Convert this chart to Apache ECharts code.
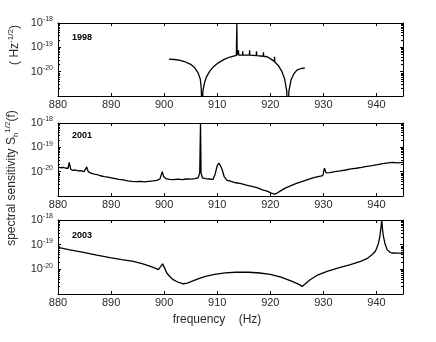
<!DOCTYPE html>
<html lang="en">
<head>
    <meta charset="UTF-8">
    <title>spectral sensitivity</title>
    <script type="text/javascript" src="https://cdn.jsdelivr.net/npm/echarts@6/dist/echarts.min.js"></script>
    <style>
        body { margin: 0; background: #fff; }
    </style>
</head>
<body>
<div id="main" style="width: 436px;height:342px;"></div>
<script>
    // frequency ticks (Hz)
    var freqTicks = [880, 890, 900, 910, 920, 930, 940];
    // panel labels
    var years = ['1998', '2001', '2003'];
    // sensitivities below are in units of 1e-20 Hz^-1/2 (log axis can't handle 1e-21 directly)

    // 1998 run
    var f1998 = [900.9, 902, 903, 904, 905, 905.8, 906.4, 906.8, 907.0, 907.15, 907.3, 907.6, 908.0, 908.6, 909.3, 910.2, 911.3, 912.4, 913.6,
        913.65, 913.7, 913.75, 913.95, 914.0, 914.05, 914.75, 914.8, 914.85, 916.05, 916.1, 916.15, 917.35, 917.4, 917.45,
        918.65, 918.7, 918.75, 919.4, 920.2, 920.75, 920.8, 920.85, 921.5, 922.2, 922.7, 923.1, 923.3, 923.5, 923.9, 924.4, 925.0, 925.8, 926.5];
    var s1998 = [3.3, 3.16, 2.9, 2.5, 2.0, 1.4, 0.89, 0.5, 0.2, 0.01, 0.16, 0.35, 0.63, 1.05, 1.6, 2.3, 3.2, 4, 4.7,
        4.7, 100, 4.8, 4.8, 7.6, 4.8, 4.8, 6.9, 4.8, 4.8, 7.6, 4.8, 4.6, 6.9, 4.6,
        4.3, 6.2, 4.3, 4.1, 3.2, 2.6, 4.1, 2.5, 1.8, 1, 0.5, 0.16, 0.01, 0.16, 0.45, 0.79, 1.15, 1.35, 1.41];

    // 2001 run
    var f2001 = [880.0, 880.5, 881.0, 881.5, 881.9, 882.1, 882.4, 882.8, 883.3, 883.8, 884.3, 884.9, 885.2, 885.4, 885.7, 886.2, 886.8, 887.4, 888.0,
        888.7, 889.4, 890.1, 890.8, 891.5, 892.3, 893.1, 893.9, 894.7, 895.5, 896.3, 897.1, 897.9, 898.6, 899.2, 899.5, 899.65, 899.9, 900.3,
        901.0, 901.8, 902.6, 903.4, 904.2, 905.0, 905.8, 906.4, 906.7, 906.85, 906.95, 907.2, 907.8, 908.5, 909.2, 909.6, 910.0, 910.3, 910.6,
        910.9, 911.3, 911.8, 912.6, 913.5, 914.5, 915.5, 916.5, 917.5, 918.5, 919.4, 920.2, 920.8, 921.3, 922.0, 922.8, 923.8, 924.8, 925.8,
        926.9, 928.0, 929.0, 929.9, 930.1, 930.2, 930.5, 931.2, 932.2, 933.2, 934.2, 935.2, 936.2, 937.2, 938.2, 939.2, 940.2, 941.2, 942.2, 943.0, 944.0, 945.0];
    var s2001 = [1.58, 1.45, 1.51, 1.38, 1.38, 2.4, 1.26, 1.12, 1.17, 1.07, 1.1, 1.0, 1.26, 1.58, 1.0, 0.87, 0.79, 0.76, 0.68,
        0.63, 0.60, 0.55, 0.52, 0.48, 0.46, 0.42, 0.40, 0.39, 0.40, 0.38, 0.40, 0.42, 0.44, 0.50, 0.79, 1.0, 0.63, 0.52,
        0.48, 0.47, 0.49, 0.47, 0.50, 0.49, 0.52, 0.56, 0.89, 100, 0.89, 0.56, 0.52, 0.50, 0.48, 0.79, 1.78, 2.24, 1.78,
        1.26, 0.63, 0.45, 0.40, 0.35, 0.32, 0.28, 0.25, 0.22, 0.18, 0.158, 0.132, 0.12, 0.132, 0.166, 0.21, 0.26, 0.32, 0.38,
        0.46, 0.55, 0.63, 0.69, 1.12, 1.41, 0.89, 0.91, 1.0, 1.07, 1.17, 1.29, 1.38, 1.51, 1.66, 1.78, 1.95, 2.14, 2.3, 2.4, 2.3, 2.4];

    // 2003 run
    var f2003 = [880.0, 882, 884.8, 887.3, 889.8, 892, 894.2, 896, 897.4, 898.4, 898.9, 899.3, 899.7, 900.1, 900.5, 901.1, 901.7, 902.6, 903.6, 904.4,
        905.3, 906.5, 907.8, 909.5, 911.5, 913.5, 916.0, 918.0, 920.0, 922.0, 924.0, 925.5, 926.0, 926.6, 927.5, 929, 930.7, 933, 935.1, 937,
        938.2, 939.2, 939.8, 940.3, 940.6, 940.85, 941.0, 941.15, 941.3, 941.6, 942.0, 942.5, 942.9, 944, 945];
    var s2003 = [7.8, 6.3, 4.9, 3.8, 3.0, 2.5, 2.1, 1.66, 1.32, 1.1, 0.98, 1.26, 1.66, 1.12, 0.71, 0.5, 0.38, 0.30, 0.26, 0.275,
        0.33, 0.42, 0.52, 0.63, 0.72, 0.76, 0.76, 0.71, 0.63, 0.48, 0.33, 0.24, 0.20, 0.26, 0.38, 0.60, 0.83, 1.17, 1.55, 2.1,
        2.7, 4.0, 5.4, 10, 18.6, 50, 100, 40, 22, 11.2, 6.3, 5.0, 4.6, 4.5, 4.5];

    var freqs = [f1998, f2001, f2003];
    var sens = [s1998, s2001, s2003];

    var grids = [
        {left: 58, right: 33, top: 23, height: 73},
        {left: 58, right: 33, top: 123, height: 73},
        {left: 58, right: 33, top: 220, height: 74}
    ];

    var axisCol = '#000';
    var textCol = '#2a2a2a';
    var xAxes = [], yAxes = [], series = [];

    for (var i = 0; i < 3; i++) {
        var base = {
            type: 'value', gridIndex: i, min: 880, max: 945, interval: 10,
            axisLine: {lineStyle: {color: axisCol, width: 1}},
            axisTick: {inside: true, length: 3, lineStyle: {color: axisCol}},
            splitLine: {show: false}
        };
        xAxes.push(Object.assign({}, base, {
            position: 'bottom',
            axisLabel: {
                color: textCol, fontSize: 11, fontFamily: 'Liberation Sans', margin: 3,
                showMaxLabel: false,
                formatter: function (v) { return freqTicks.indexOf(v) >= 0 ? String(v) : ''; }
            }
        }));
        xAxes.push(Object.assign({}, base, {position: 'top', axisLabel: {show: false}}));

        var ybase = {
            type: 'log', logBase: 10, gridIndex: i, min: 0.1, max: 100,
            axisLine: {lineStyle: {color: axisCol, width: 1}},
            axisTick: {inside: true, length: 3, lineStyle: {color: axisCol}},
            minorTick: {show: true, splitNumber: 9, length: 2, lineStyle: {color: axisCol}},
            splitLine: {show: false}
        };
        yAxes.push(Object.assign({}, ybase, {
            position: 'left',
            axisLabel: {
                margin: 5,
                formatter: function (v) {
                    var e = Math.round(Math.log10(v)) - 20;
                    if (e <= -21) return '';
                    return '{a|10}{b|' + e + '}';
                },
                rich: {
                    a: {fontSize: 11, color: textCol, fontFamily: 'Liberation Sans', lineHeight: 14},
                    b: {fontSize: 7, color: textCol, fontFamily: 'Liberation Sans', lineHeight: 8, verticalAlign: 'top'}
                }
            }
        }));
        yAxes.push(Object.assign({}, ybase, {position: 'right', axisLabel: {show: false}}));

        var pts = [];
        for (var k = 0; k < freqs[i].length; k++) pts.push([freqs[i][k], sens[i][k]]);
        series.push({
            type: 'line', xAxisIndex: i * 2, yAxisIndex: i * 2, data: pts,
            showSymbol: false, clip: true, animation: false,
            lineStyle: {color: '#000', width: 1.3}
        });
    }

    var graphics = [];
    var yearY = [39, 137, 237];
    for (var j = 0; j < 3; j++) {
        graphics.push({
            type: 'text', left: 72, top: yearY[j] - 6,
            style: {text: years[j], font: 'bold 9px "Liberation Sans"', fill: '#000'}
        });
    }
    graphics.push({
        type: 'text', x: 12, y: 178, rotation: Math.PI / 2,
        style: {
            text: '{m|spectral sensitivity S}{s|h}{p|1/2}{m|(f)}',
            align: 'center', verticalAlign: 'middle',
            rich: {
                m: {fontSize: 12, fontFamily: 'Liberation Sans', fill: textCol, lineHeight: 16},
                s: {fontSize: 8, fontFamily: 'Liberation Sans', fill: textCol, lineHeight: 6, verticalAlign: 'bottom'},
                p: {fontSize: 8, fontFamily: 'Liberation Sans', fill: textCol, lineHeight: 8, verticalAlign: 'top'}
            }
        }
    });
    graphics.push({
        type: 'text', x: 15, y: 45, rotation: Math.PI / 2,
        style: {
            text: '{m|( Hz}{p|-1/2}{m|)}',
            align: 'center', verticalAlign: 'middle',
            rich: {
                m: {fontSize: 12, fontFamily: 'Liberation Sans', fill: textCol, lineHeight: 16},
                p: {fontSize: 8, fontFamily: 'Liberation Sans', fill: textCol, lineHeight: 8, verticalAlign: 'top'}
            }
        }
    });
    graphics.push({
        type: 'text', x: 217, y: 320,
        style: {
            text: 'frequency    (Hz)', align: 'center', verticalAlign: 'middle',
            font: '12px "Liberation Sans"', fill: textCol
        }
    });

    var option = {
        backgroundColor: '#fff',
        animation: false,
        grid: grids,
        xAxis: xAxes,
        yAxis: yAxes,
        series: series,
        graphic: graphics
    };

    var myChart = echarts.init(document.getElementById('main'));
    myChart.setOption(option);
</script>
</body>
</html>
